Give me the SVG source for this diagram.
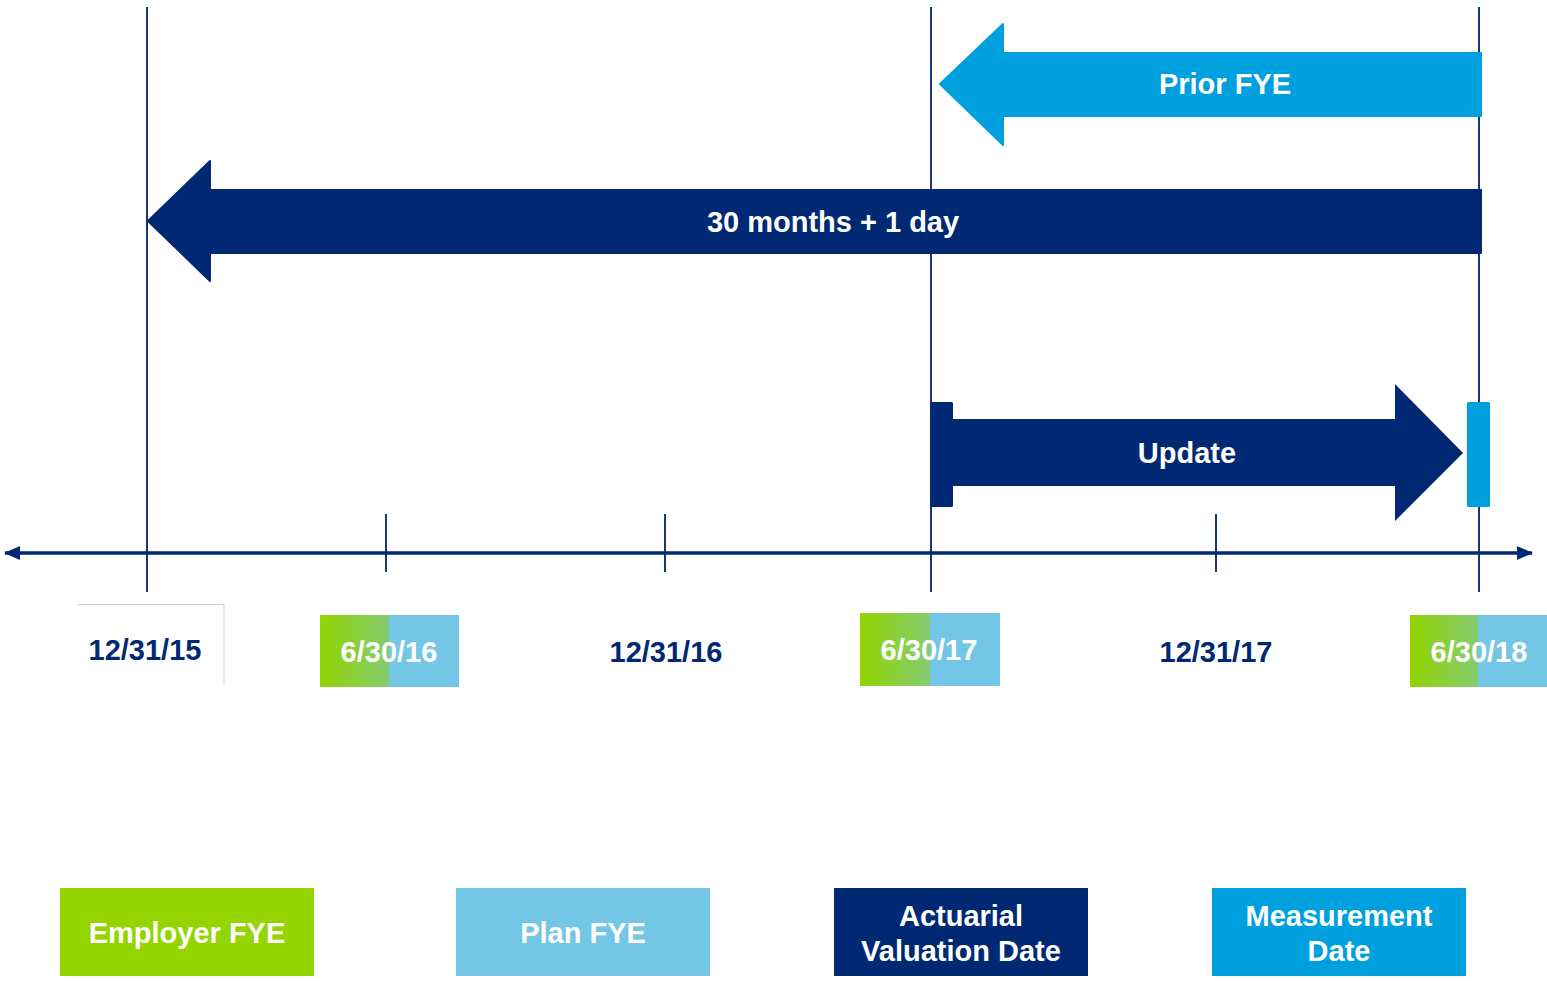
<svg xmlns="http://www.w3.org/2000/svg" width="1547" height="981" viewBox="0 0 1547 981">
<defs>
<linearGradient id="dg" x1="0" y1="0" x2="1" y2="0">
<stop offset="0" stop-color="#92D400"/>
<stop offset="0.5" stop-color="#84CC72"/>
<stop offset="0.5" stop-color="#74C6E7"/>
<stop offset="1" stop-color="#74C6E7"/>
</linearGradient>
<marker id="ah" viewBox="0 0 16 14" refX="15" refY="7" markerWidth="16" markerHeight="14" markerUnits="userSpaceOnUse" orient="auto-start-reverse">
<path d="M0,0 L16,7 L0,14 Z" fill="#002873"/>
</marker>
</defs>
<style>
.vl{stroke:#1A3679;stroke-width:2;fill:none}
.t{font-family:"Liberation Sans",Arial,sans-serif;font-weight:bold;font-size:29px;text-anchor:middle}
.w{fill:#FFFFFF}
.n{fill:#002873}
</style>
<rect width="1547" height="981" fill="#FFFFFF"/>
<g id="connectors">
<line class="vl" x1="147" y1="7" x2="147" y2="592"/>
<line class="vl" x1="931" y1="7" x2="931" y2="592"/>
<line class="vl" x1="1479" y1="7" x2="1479" y2="592"/>
<line class="vl" x1="386" y1="514" x2="386" y2="572"/>
<line class="vl" x1="665" y1="514" x2="665" y2="572"/>
<line class="vl" x1="1216" y1="514" x2="1216" y2="572"/>
<line x1="5" y1="553" x2="1532" y2="553" stroke="#002873" stroke-width="3.5" marker-start="url(#ah)" marker-end="url(#ah)"/>
</g>
<g id="prior-fye">
<path d="M1481,53 L1003,53 L1003,24 L940,84 L1003,145 L1003,116 L1481,116 Z" fill="#00A0DF" stroke="#00A0DF" stroke-width="2" stroke-linejoin="round"/>
<text class="t w" x="1225" y="94">Prior FYE</text>
</g>
<g id="thirty-months">
<path d="M1481,190 L210,190 L210,161 L148,221 L210,281 L210,253 L1481,253 Z" fill="#002873" stroke="#002873" stroke-width="2" stroke-linejoin="round"/>
<text class="t w" x="833" y="232">30 months + 1 day</text>
</g>
<g id="update">
<rect x="930" y="402" width="23" height="105" rx="1.5" fill="#002873"/>
<path d="M953,419 L1395,419 L1395,384 L1463,453 L1395,521 L1395,486 L953,486 Z" fill="#002873"/>
<rect x="1467" y="402" width="23" height="105" rx="1.5" fill="#00A0DF"/>
<text class="t w" x="1187" y="463">Update</text>
</g>
<g id="d-123115">
<path d="M77,604.5 L224,604.5 L224,686" fill="none" stroke="#C8D2E6" stroke-width="1"/>
<text class="t n" x="145" y="660">12/31/15</text>
</g>
<g id="d-63016">
<rect x="320" y="615" width="139" height="72" fill="url(#dg)"/>
<text class="t w" x="389" y="662">6/30/16</text>
</g>
<g id="d-123116">
<text class="t n" x="666" y="662">12/31/16</text>
</g>
<g id="d-63017">
<rect x="860" y="613" width="140" height="73" fill="url(#dg)"/>
<text class="t w" x="929" y="660">6/30/17</text>
</g>
<g id="d-123117">
<text class="t n" x="1216" y="662">12/31/17</text>
</g>
<g id="d-63018">
<rect x="1410" y="615" width="137" height="72" fill="url(#dg)"/>
<text class="t w" x="1479" y="662">6/30/18</text>
</g>
<g id="legend-employer">
<rect x="60" y="888" width="254" height="88" fill="#94D500"/>
<text class="t w" x="187" y="943">Employer FYE</text>
</g>
<g id="legend-plan">
<rect x="456" y="888" width="254" height="88" fill="#74C6E7"/>
<text class="t w" x="583" y="943">Plan FYE</text>
</g>
<g id="legend-actuarial">
<rect x="834" y="888" width="254" height="88" fill="#002873"/>
<text class="t w" x="961" y="926">Actuarial</text>
<text class="t w" x="961" y="961">Valuation Date</text>
</g>
<g id="legend-measurement">
<rect x="1212" y="888" width="254" height="88" fill="#00A0DF"/>
<text class="t w" x="1339" y="926">Measurement</text>
<text class="t w" x="1339" y="961">Date</text>
</g>
</svg>
